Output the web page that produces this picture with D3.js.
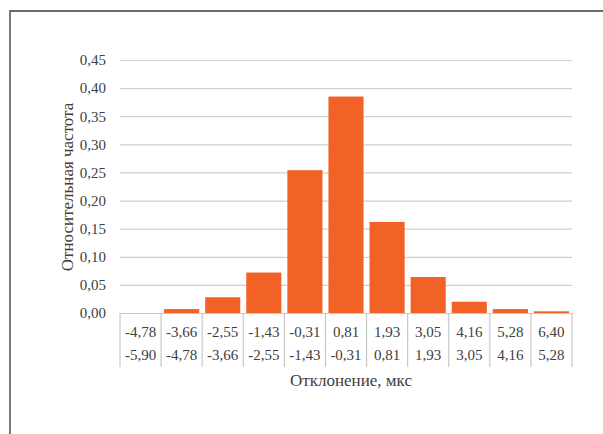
<!DOCTYPE html>
<html><head><meta charset="utf-8">
<script src="https://cdn.jsdelivr.net/npm/d3@7"></script>
<style>
html,body{margin:0;padding:0;background:#fff;}
</style></head>
<body>
<svg id="c" width="603" height="434"></svg>
<script>
const upperBounds = ["-4,78","-3,66","-2,55","-1,43","-0,31","0,81","1,93","3,05","4,16","5,28","6,40"];
const lowerBounds = ["-5,90","-4,78","-3,66","-2,55","-1,43","-0,31","0,81","1,93","3,05","4,16","5,28"];
const frequencies = [0, 0.007, 0.028, 0.072, 0.254, 0.385, 0.162, 0.064, 0.020, 0.007, 0.003];
const yTicks = [0,0.05,0.10,0.15,0.20,0.25,0.30,0.35,0.40,0.45];
const xTitle = "Отклонение, мкс";
const yTitle = "Относительная частота";

const FONT = "'Liberation Serif'";
const svg = d3.select("#c");
const pL = 120, pR = 572, pT = 60, pB = 313;
const idx = d3.range(frequencies.length);
const x = d3.scaleBand().domain(idx).range([pL, pR]).paddingInner(0.146).paddingOuter(0.073);
const xb = d3.scaleBand().domain(idx).range([pL, pR]);
const y = d3.scaleLinear().domain([0, 0.45]).range([pB, pT]);
const fmt = v => d3.format(".2f")(v).replace(".", ",");

// outer border
svg.append("path").attr("d", `M10,434 L10,11 L603,11`).attr("fill","none")
  .attr("stroke","#6b6b6b").attr("stroke-width",1.8);

// gridlines
const yAxis = d3.axisLeft(y).tickValues(yTicks).tickFormat(fmt).tickSize(-(pR-pL)).tickPadding(14);
const gy = svg.append("g").attr("transform",`translate(${pL},0)`).call(yAxis)
  .attr("font-family", null).attr("font-size", null);
gy.select(".domain").remove();
gy.selectAll(".tick line").attr("stroke","#d0d0d0").attr("stroke-width",1.2);
gy.selectAll(".tick text").style("font-size","15px").style("fill","#404040")
  .style("font-family", FONT);

// bars
svg.append("g").selectAll("rect").data(idx).join("rect")
  .attr("x", i => x(i)).attr("width", x.bandwidth())
  .attr("y", i => y(frequencies[i])).attr("height", i => pB - y(frequencies[i]))
  .attr("fill", "#f26226");

// category axis (multi-level)
const gx = svg.append("g");
gx.append("line").attr("x1",pL).attr("x2",pR).attr("y1",pB+0.5).attr("y2",pB+0.5)
  .attr("stroke","#c8c8c8").attr("stroke-width",1.2);
const bounds = idx.map(i => xb(i)).concat([pR]);
gx.selectAll("line.v").data(bounds).join("line").attr("class","v")
  .attr("x1",d=>d).attr("x2",d=>d).attr("y1",pB).attr("y2",367)
  .attr("stroke","#c8c8c8").attr("stroke-width",1.2);
gx.selectAll("text.u").data(idx).join("text").attr("class","u")
  .attr("x", i => xb(i) + xb.bandwidth()/2).attr("y", 337)
  .attr("text-anchor","middle").style("font-size","15px").style("font-family", FONT)
  .style("fill","#404040").text(i => upperBounds[i]);
gx.selectAll("text.l").data(idx).join("text").attr("class","l")
  .attr("x", i => xb(i) + xb.bandwidth()/2).attr("y", 360)
  .attr("text-anchor","middle").style("font-size","15px").style("font-family", FONT)
  .style("fill","#404040").text(i => lowerBounds[i]);

// titles
svg.append("text").attr("x", 351).attr("y", 386).attr("text-anchor","middle")
  .style("font-size","17px").style("font-family", FONT).style("fill","#404040").text(xTitle);
svg.append("text").attr("transform","translate(73,187) rotate(-90)").attr("text-anchor","middle")
  .style("font-size","17px").style("font-family", FONT).style("fill","#404040").text(yTitle);
</script>
</body></html>
